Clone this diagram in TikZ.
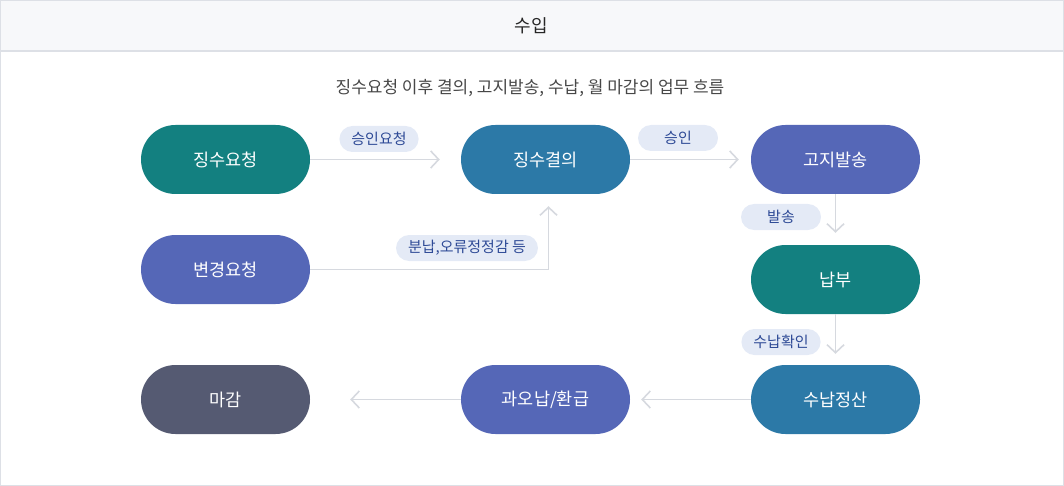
\documentclass[tikz,border=0pt]{standalone}
\usepackage{fontspec}
\setmainfont{Noto Sans CJK KR}
\usepackage{xcolor}
\usetikzlibrary{positioning,arrows.meta}

\definecolor{tealc}{HTML}{138080}
\definecolor{bluec}{HTML}{2C79A7}
\definecolor{indigoc}{HTML}{5567B7}
\definecolor{slatec}{HTML}{555A72}
\definecolor{linec}{HTML}{D6D9DF}
\definecolor{framec}{HTML}{DDE0E6}
\definecolor{headc}{HTML}{F7F8FA}
\definecolor{tagc}{HTML}{E4EAF6}
\definecolor{tagtext}{HTML}{2E4A96}

\begin{document}
\begin{tikzpicture}[
    x=1pt, y=-1pt,
    stage/.style={rectangle, rounded corners=34.5pt, minimum width=169pt, minimum height=69pt,
        text=white, font=\fontsize{17.5}{20}\selectfont, inner sep=0pt},
    tag/.style={rectangle, rounded corners=13pt, fill=tagc, text=tagtext, minimum height=26pt,
        inner xsep=12pt, inner ysep=0pt, font=\fontsize{15}{18}\selectfont},
    flow/.style={-{Straight Barb[length=8pt,width=17pt]}, line width=1.6pt, draw=linec}
]
    \useasboundingbox (0,0) rectangle (1064,486);

    % frame and header
    \fill[headc] (0,0) rectangle (1064,51);
    \draw[framec, line width=1.2pt] (0,51) -- (1064,51);
    \draw[framec, line width=1.5pt] (0,0) rectangle (1064,486);
    \node[font=\fontsize{18}{21}\selectfont, text=black!85] (title) at (531,26) {수입};
    \node[font=\fontsize{17}{20}\selectfont, text=black!72] (subtitle) at (530,88)
        {징수요청 이후 결의, 고지발송, 수납, 월 마감의 업무 흐름};

    % stages
    \node[stage, fill=tealc] (request) at (225.5,159.5) {징수요청};
    \node[stage, fill=bluec] (decision) at (545.5,159.5) {징수결의};
    \node[stage, fill=indigoc] (notice) at (835.5,159.5) {고지발송};
    \node[stage, fill=indigoc] (change) at (225.5,269.5) {변경요청};
    \node[stage, fill=tealc] (payment) at (835.5,279.5) {납부};
    \node[stage, fill=bluec] (settle) at (835.5,399.5) {수납정산};
    \node[stage, fill=indigoc] (refund) at (545.5,399.5) {과오납/환급};
    \node[stage, fill=slatec] (closing) at (225.5,399.5) {마감};

    % tags
    \node[tag] (approvereq) at (379,139) {승인요청};
    \node[tag, minimum width=80pt] (approve) at (678,138) {승인};
    \node[tag] (changes) at (467,248) {분납,오류정정감 등};
    \node[tag, minimum width=80pt] (send) at (781,217) {발송};
    \node[tag] (confirm) at (781,342) {수납확인};

    % flows
    \draw[flow, shorten >=21pt] (request) -- (decision);
    \draw[flow, shorten >=12pt] (decision) -- (notice);
    \draw[flow, shorten >=12pt] (change.east) -| ([xshift=3pt]decision.south);
    \draw[flow, shorten >=12pt] (notice) -- (payment);
    \draw[flow, shorten >=11pt] (payment) -- (settle);
    \draw[flow, shorten >=11pt] (settle) -- (refund);
    \draw[flow, shorten >=40pt] (refund) -- (closing);
\end{tikzpicture}
\end{document}
